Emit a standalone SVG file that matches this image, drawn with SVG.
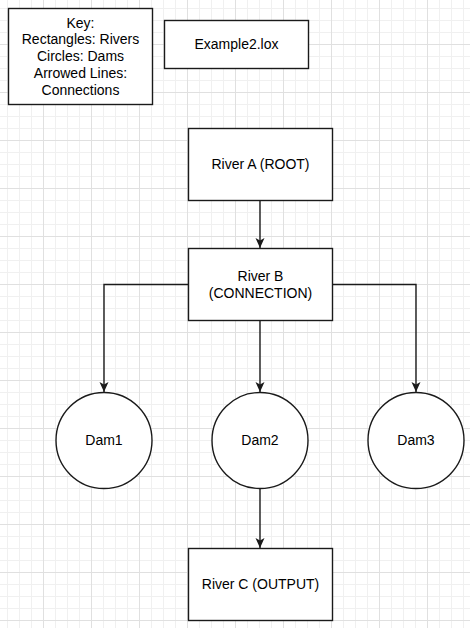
<svg xmlns="http://www.w3.org/2000/svg" width="470" height="628" viewBox="0 0 470 628">
<style>
.box{fill:#fff;stroke:#1a1a1a;stroke-width:1.4}
.edge{fill:none;stroke:#1a1a1a;stroke-width:1.4}
text{font-family:"Liberation Sans",Arial,sans-serif;font-size:14px;fill:#000;text-anchor:middle}
</style>
<defs>
<pattern id="grid" x="-5" y="-4" width="48" height="48" patternUnits="userSpaceOnUse">
<path d="M12.5 0V48M24.5 0V48M36.5 0V48M0 12.5H48M0 24.5H48M0 36.5H48" stroke="#f0f0f0" stroke-width="1" fill="none"/>
<path d="M0.5 0V48M0 0.5H48" stroke="#e0e0e0" stroke-width="1" fill="none"/>
</pattern>
<marker id="arr" viewBox="0 0 10 10" refX="10" refY="5" markerWidth="10" markerHeight="10" markerUnits="userSpaceOnUse" orient="auto">
<path d="M0,0.5 L10,5 L0,9.5 L2.5,5 Z" fill="#1a1a1a"/>
</marker>
</defs>
<rect width="470" height="628" fill="#fff"/>
<rect width="470" height="628" fill="url(#grid)"/>
<g id="connectors">
<path class="edge" d="M260 200.5V248" marker-end="url(#arr)"/>
<path class="edge" d="M188.5 284.5H104V392" marker-end="url(#arr)"/>
<path class="edge" d="M260 320.5V392" marker-end="url(#arr)"/>
<path class="edge" d="M332.5 284.5H416V392" marker-end="url(#arr)"/>
<path class="edge" d="M260 488.5V548" marker-end="url(#arr)"/>
</g>
<g id="key">
<rect class="box" x="8.5" y="8.5" width="144" height="96"/>
<text x="80.5" y="27.5">Key:</text>
<text x="80.5" y="44.3">Rectangles: Rivers</text>
<text x="80.5" y="61.1">Circles: Dams</text>
<text x="80.5" y="77.9">Arrowed Lines:</text>
<text x="80.5" y="94.7">Connections</text>
</g>
<g id="title">
<rect class="box" x="164.5" y="20.5" width="144" height="48"/>
<text x="236.5" y="49.3">Example2.lox</text>
</g>
<g id="riverA">
<rect class="box" x="188.5" y="128.5" width="144" height="72"/>
<text x="260.5" y="169.3">River A (ROOT)</text>
</g>
<g id="riverB">
<rect class="box" x="188.5" y="248.5" width="144" height="72"/>
<text x="260.5" y="280.5">River B</text>
<text x="260.5" y="297.5">(CONNECTION)</text>
</g>
<g id="dam1">
<circle class="box" cx="104" cy="440.5" r="48"/>
<text x="104" y="445.3">Dam1</text>
</g>
<g id="dam2">
<circle class="box" cx="260" cy="440.5" r="48"/>
<text x="260" y="445.3">Dam2</text>
</g>
<g id="dam3">
<circle class="box" cx="416" cy="440.5" r="48"/>
<text x="416" y="445.3">Dam3</text>
</g>
<g id="riverC">
<rect class="box" x="188.5" y="548.5" width="144" height="72"/>
<text x="260.5" y="589.3">River C (OUTPUT)</text>
</g>
</svg>
